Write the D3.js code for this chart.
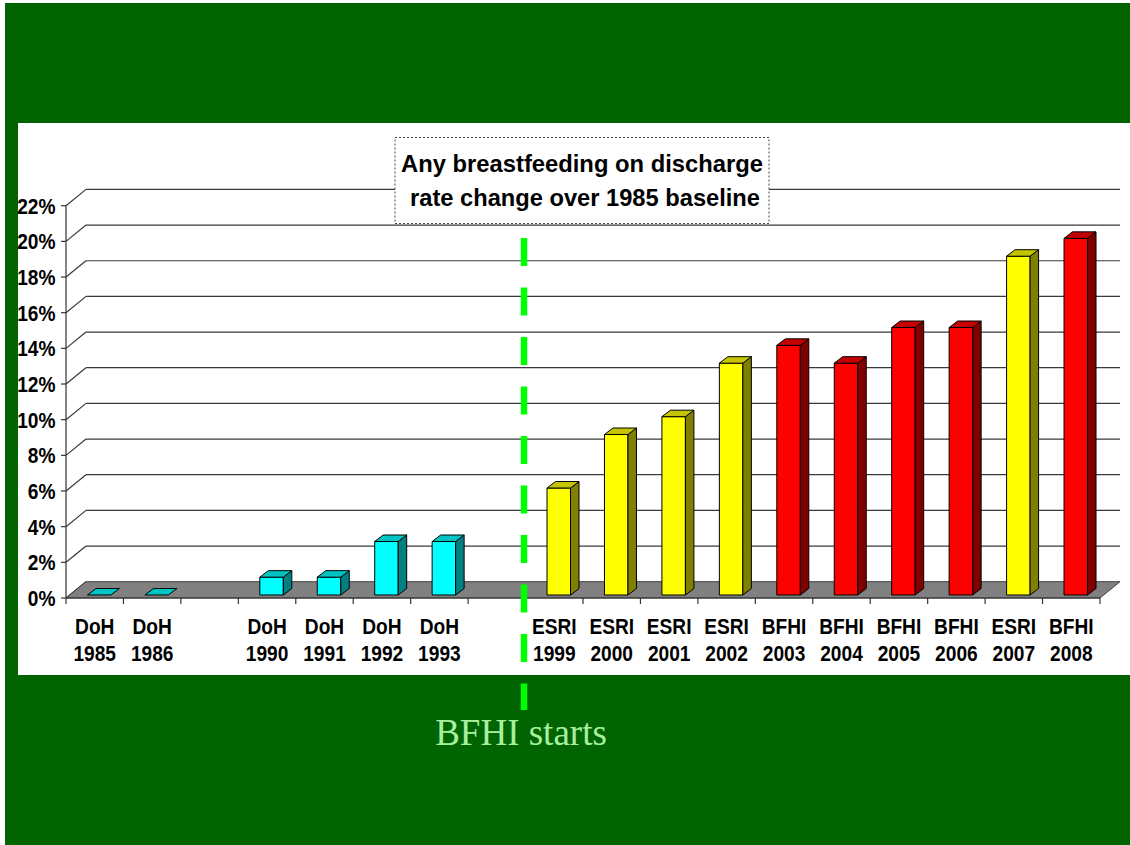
<!DOCTYPE html>
<html>
<head>
<meta charset="utf-8">
<script src="https://cdn.jsdelivr.net/npm/d3@7"></script>
<style>
  html, body { margin: 0; padding: 0; background: #fff; }
  svg { display: block; }
</style>
</head>
<body>
<div id="chart"></div>
<script>
// data
const sources = ['DoH', 'DoH', '', 'DoH', 'DoH', 'DoH', 'DoH', '', 'ESRI', 'ESRI', 'ESRI', 'ESRI', 'BFHI', 'BFHI', 'BFHI', 'BFHI', 'ESRI', 'BFHI'];
const years = ['1985', '1986', '', '1990', '1991', '1992', '1993', '', '1999', '2000', '2001', '2002', '2003', '2004', '2005', '2006', '2007', '2008'];
const values = [0, 0, null, 1, 1, 3, 3, null, 6, 9, 10, 13, 14, 13, 15, 15, 19, 20];
const yTicks = [0, 2, 4, 6, 8, 10, 12, 14, 16, 18, 20, 22];
const titleLines = ['Any breastfeeding on discharge', 'rate change over 1985 baseline'];
const noteText = 'BFHI starts';

const faceColor = {
  DoH: { front: '#00ffff', top: '#00c4c4', side: '#008080' },
  ESRI: { front: '#ffff00', top: '#c4c400', side: '#808000' },
  BFHI: { front: '#ff0000', top: '#c40000', side: '#800000' }
};

const W = 1130, H = 845;
const DX = 20, DY = -16.3;       // depth of the 3d floor / walls
const BX = 8.5, BY = -6.5;       // depth of each bar
const OX = 4.5, OY = -3;         // bar front face offset into the depth
const BAR_W = 23.5;
const FONT = "'Liberation Sans', Arial, sans-serif";

const svg = d3.select('#chart').append('svg')
  .attr('width', W)
  .attr('height', H);

// ✅ Slide background
svg.append('rect').attr('width', W).attr('height', H).attr('fill', '#fff');
svg.append('rect').attr('x', 5).attr('y', 3).attr('width', W - 5).attr('height', H - 3).attr('fill', '#006400');
svg.append('rect').attr('x', 18).attr('y', 123).attr('width', W - 18).attr('height', 552).attr('fill', '#fff');

// ✅ Scales
const x = d3.scaleBand()
  .domain(d3.range(values.length))
  .range([66, 1100])
  .padding(0);

const y = d3.scaleLinear()
  .domain([0, 22])
  .range([598, 205.7]);

const x0 = x.range()[0], x1 = x.range()[1];

// ✅ Walls: gridlines on back wall, diagonals on left wall
const grid = svg.append('g').attr('stroke', '#3a3a3a').attr('stroke-width', 1.2).attr('fill', 'none');

grid.selectAll('line.diag')
  .data(yTicks)
  .join('line')
  .attr('class', 'diag')
  .attr('x1', x0).attr('y1', d => y(d))
  .attr('x2', x0 + DX).attr('y2', d => y(d) + DY);

grid.selectAll('line.back')
  .data(yTicks.filter(d => d > 0))
  .join('line')
  .attr('class', 'back')
  .attr('x1', x0 + DX).attr('y1', d => y(d) + DY)
  .attr('x2', x1 + DX).attr('y2', d => y(d) + DY);

// ✅ Floor
svg.append('polygon')
  .attr('points', [
    [x0, y(0)], [x1, y(0)], [x1 + DX, y(0) + DY], [x0 + DX, y(0) + DY]
  ].map(p => p.join(',')).join(' '))
  .attr('fill', '#808080')
  .attr('stroke', '#404040')
  .attr('stroke-width', 1);

// ✅ Y axis
const yAxis = svg.append('g').attr('stroke', '#333').attr('stroke-width', 1.2);
yAxis.append('line').attr('x1', x0).attr('x2', x0).attr('y1', y(0)).attr('y2', y(22));
yAxis.selectAll('line.tick')
  .data(yTicks)
  .join('line')
  .attr('class', 'tick')
  .attr('x1', x0 - 5).attr('x2', x0)
  .attr('y1', d => y(d)).attr('y2', d => y(d));

svg.append('g').selectAll('text')
  .data(yTicks)
  .join('text')
  .attr('transform', d => `translate(55.5,${y(d) + 8}) scale(0.87,1.04)`)
  .attr('text-anchor', 'end')
  .attr('font-family', FONT)
  .attr('font-weight', 'bold')
  .attr('font-size', 22)
  .attr('fill', '#000')
  .text(d => `${d}%`);

// ✅ X axis line + ticks
const xAxis = svg.append('g').attr('stroke', '#333').attr('stroke-width', 1.2);
xAxis.append('line').attr('x1', x0).attr('x2', x1).attr('y1', y(0)).attr('y2', y(0));
xAxis.selectAll('line.tick')
  .data(d3.range(values.length + 1))
  .join('line')
  .attr('class', 'tick')
  .attr('x1', i => x0 + i * x.bandwidth()).attr('x2', i => x0 + i * x.bandwidth())
  .attr('y1', y(0)).attr('y2', y(0) + 6);

// ✅ Bars (front / side / top faces)
const bars = values
  .map((v, i) => ({ i, v, src: sources[i] }))
  .filter(d => d.v !== null);

const pts = arr => arr.map(p => p.join(',')).join(' ');

const barG = svg.append('g').selectAll('g')
  .data(bars)
  .join('g')
  .attr('stroke', '#000')
  .attr('stroke-width', 1)
  .attr('stroke-linejoin', 'round');

barG.each(function (d) {
  const g = d3.select(this);
  const c = faceColor[d.src];
  const xl = x(d.i) + x.bandwidth() / 2 - BAR_W / 2 + OX;
  const xr = xl + BAR_W;
  const base = y(0) + OY;
  const top = y(d.v) + OY;

  if (d.v > 0) {
    g.append('rect')
      .attr('x', xl).attr('y', top)
      .attr('width', BAR_W).attr('height', base - top)
      .attr('fill', c.front);
    g.append('polygon')
      .attr('points', pts([[xr, top], [xr + BX, top + BY], [xr + BX, base + BY], [xr, base]]))
      .attr('fill', c.side);
  }
  g.append('polygon')
    .attr('points', pts([[xl, top], [xr, top], [xr + BX, top + BY], [xl + BX, top + BY]]))
    .attr('fill', c.top);
});

// ✅ Category labels (two lines)
const labels = svg.append('g')
  .attr('font-family', FONT)
  .attr('font-weight', 'bold')
  .attr('font-size', 22)
  .attr('fill', '#000');

labels.selectAll('text.src')
  .data(sources.map((s, i) => ({ s, i })).filter(d => d.s))
  .join('text')
  .attr('class', 'src')
  .attr('transform', d => `translate(${x(d.i) + x.bandwidth() / 2},634) scale(0.87,1.04)`)
  .attr('text-anchor', 'middle')
  .text(d => d.s);

labels.selectAll('text.yr')
  .data(years.map((s, i) => ({ s, i })).filter(d => d.s))
  .join('text')
  .attr('class', 'yr')
  .attr('transform', d => `translate(${x(d.i) + x.bandwidth() / 2},661) scale(0.87,1.04)`)
  .attr('text-anchor', 'middle')
  .text(d => d.s);

// ✅ Title box
svg.append('rect')
  .attr('x', 395).attr('y', 137.5)
  .attr('width', 374).attr('height', 86)
  .attr('fill', '#fff')
  .attr('stroke', '#444')
  .attr('stroke-width', 1)
  .attr('stroke-dasharray', '2,2');

svg.append('g').selectAll('text')
  .data(titleLines)
  .join('text')
  .attr('x', (d, i) => i === 0 ? 582 : 585)
  .attr('y', (d, i) => i === 0 ? 172 : 205.5)
  .attr('text-anchor', 'middle')
  .attr('textLength', (d, i) => i === 0 ? 362 : 350)
  .attr('lengthAdjust', 'spacingAndGlyphs')
  .attr('font-family', FONT)
  .attr('font-weight', 'bold')
  .attr('font-size', 24)
  .attr('fill', '#000')
  .text(d => d);

// ✅ BFHI start marker
svg.append('line')
  .attr('x1', 524).attr('x2', 524)
  .attr('y1', 238).attr('y2', 710)
  .attr('stroke', '#00ff00')
  .attr('stroke-width', 6.5)
  .attr('stroke-dasharray', '28,21.5');

svg.append('text')
  .attr('x', 521)
  .attr('y', 745)
  .attr('text-anchor', 'middle')
  .attr('font-family', "'Liberation Serif', 'Times New Roman', serif")
  .attr('font-size', 37)
  .attr('fill', '#a8f0a0')
  .text(noteText);
</script>
</body>
</html>
